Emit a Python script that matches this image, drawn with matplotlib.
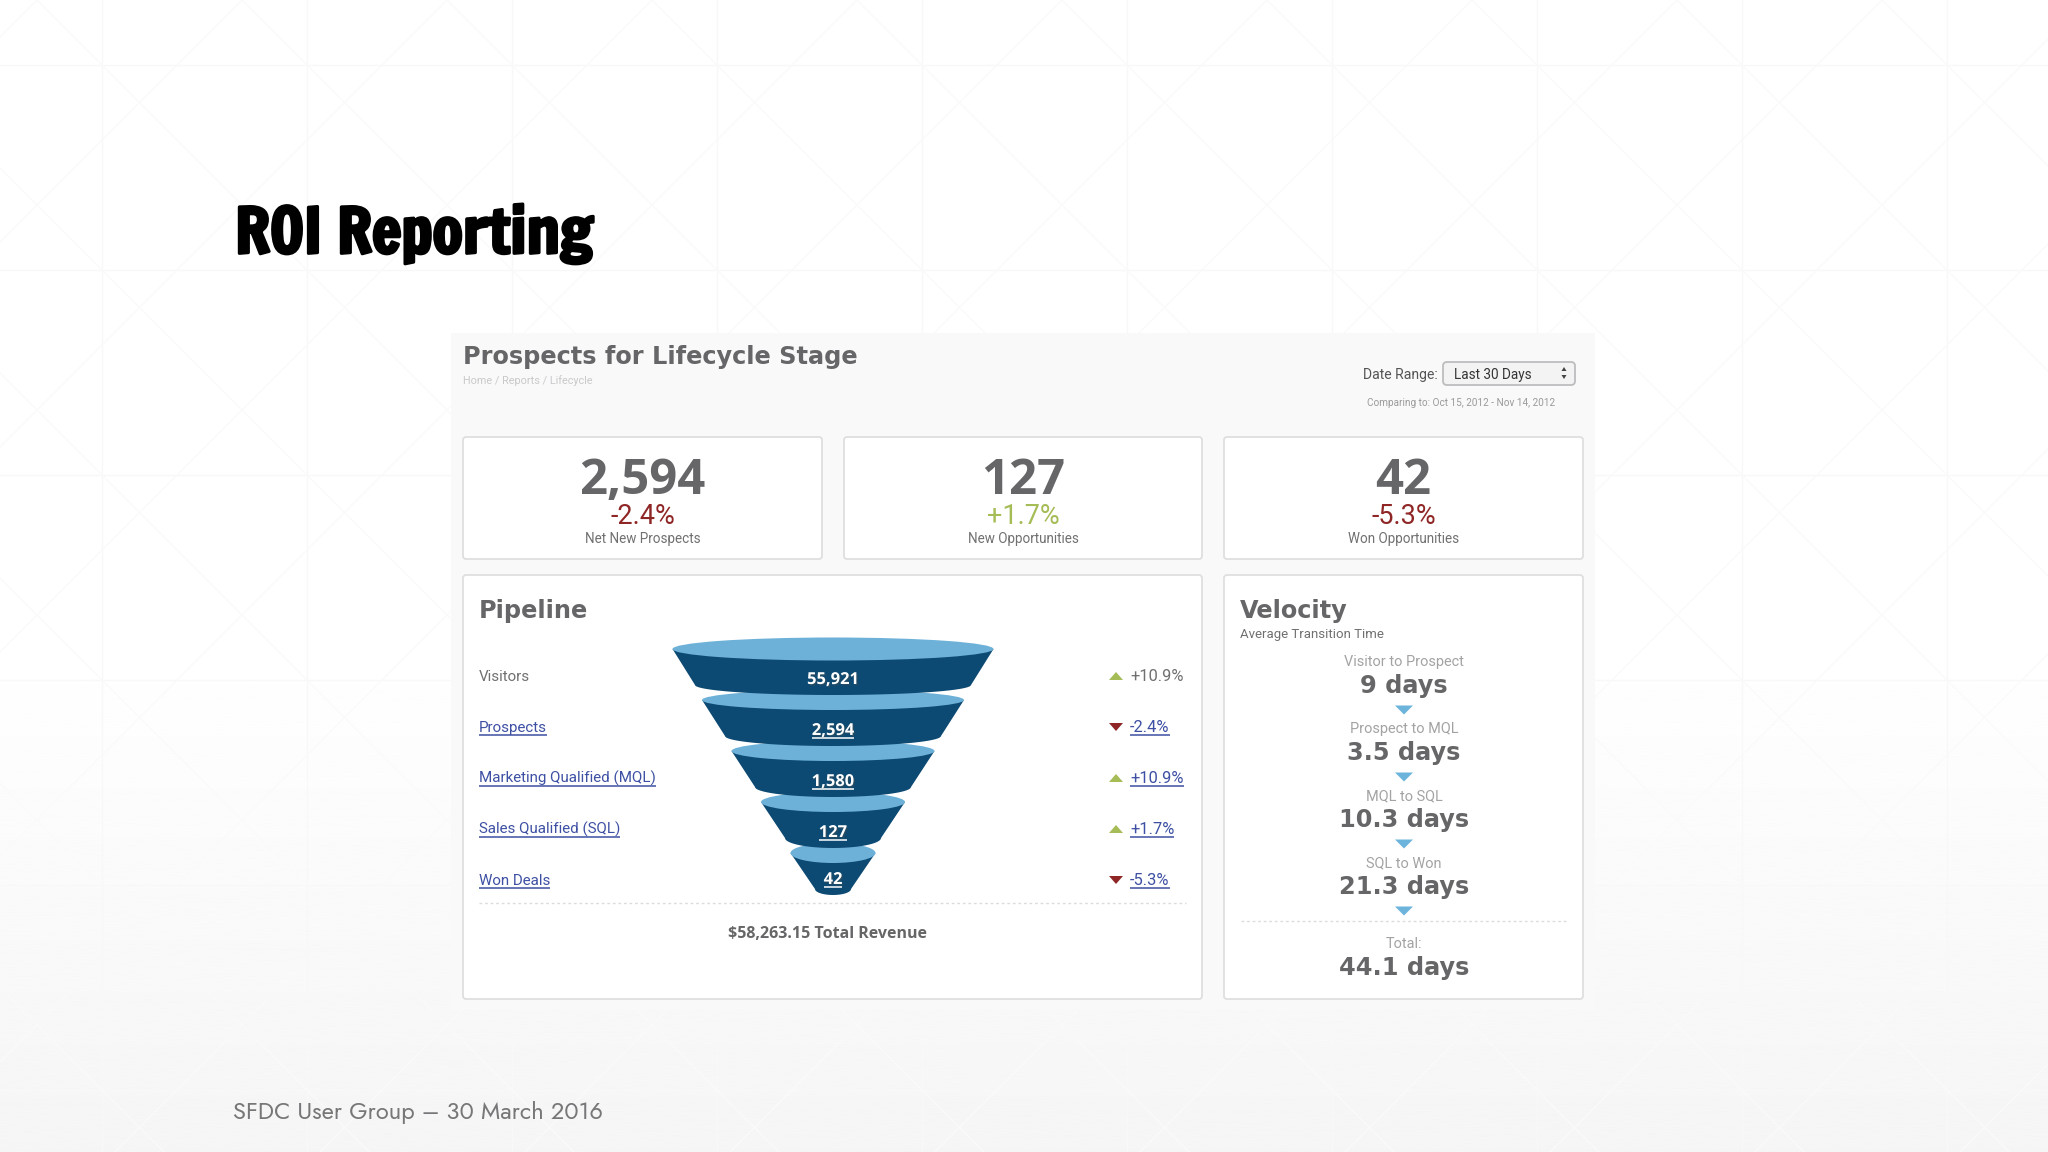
import matplotlib
matplotlib.use('Agg')
import matplotlib.pyplot as plt
import matplotlib.patheffects as pe
import numpy as np
from matplotlib.patches import Ellipse, FancyBboxPatch, Rectangle

# Chart values
stages = ['Visitors', 'Prospects', 'Marketing Qualified (MQL)', 'Sales Qualified (SQL)', 'Won Deals']
stage_values = ['55,921', '2,594', '1,580', '127', '42']
stage_changes = [10.9, -2.4, 10.9, 1.7, -5.3]

kpi_values = ['2,594', '127', '42']
kpi_changes = [-2.4, 1.7, -5.3]
kpi_labels = ['Net New Prospects', 'New Opportunities', 'Won Opportunities']

velocity_steps = ['Visitor to Prospect', 'Prospect to MQL', 'MQL to SQL', 'SQL to Won']
velocity_days = [9, 3.5, 10.3, 21.3]
velocity_total = 44.1
total_revenue = '$58,263.15'

# Colours
GRAY = '#666668'
SOFT = '#707072'
GREEN = '#a5bc57'
RED = '#8f2626'
LINK = '#3d50a3'
DARK = '#0c4a73'
LIGHT = '#6db1d8'
ARROW = '#6cb4dc'
BOLD = ['DejaVu Sans']
BODY = ['Roboto', 'DejaVu Sans']
HEAVY = ['Open Sans', 'DejaVu Sans']

fig = plt.figure(figsize=(20.48, 11.52), dpi=100)
ax = fig.add_axes([0, 0, 1, 1])
ax.set_xlim(0, 2048)
ax.set_ylim(1152, 0)
ax.axis('off')


def label(x, y, s, px, color=SOFT, family=BODY, weight='normal', ha='left', underline=False, zorder=30):
    """Place text by its baseline, size given in image pixels."""
    t = ax.text(x, y, s, fontsize=px * 0.72, color=color, family=family, fontweight=weight,
                ha=ha, va='baseline', zorder=zorder)
    if underline:
        box = t.get_window_extent(fig.canvas.get_renderer())
        ax.plot([box.x0, box.x1], [y + 2.5, y + 2.5], color=color, lw=1.1, zorder=zorder, solid_capstyle='butt')
    return t


def triangle(cx, cy, width, height, color, up=True):
    tip = -height / 2 if up else height / 2
    ax.fill([cx - width / 2, cx + width / 2, cx], [cy - tip, cy - tip, cy + tip], color=color, lw=0, zorder=20)


def card(x0, y0, x1, y1):
    ax.add_patch(FancyBboxPatch((x0, y0), x1 - x0, y1 - y0, boxstyle='round,pad=0,rounding_size=3',
                                fc='white', ec='#dfdfe1', lw=1.3, zorder=5))


# Slide background: soft gradient towards the bottom and a faint lattice
shade = np.clip((np.linspace(0, 1, 400) - 0.55) / 0.45, 0, 1)[:, None] * 10
ax.imshow(255 - shade, cmap='gray', vmin=0, vmax=255, extent=(0, 2048, 1152, 0), aspect='auto', zorder=0)
ax.set_xlim(0, 2048)
ax.set_ylim(1152, 0)

for gx in np.arange(102, 2048, 205):
    ax.plot([gx, gx], [0, 1152], color='#f8f8f9', lw=1, zorder=1)
for gy in np.arange(65, 1152, 205):
    ax.plot([0, 2048], [gy, gy], color='#f8f8f9', lw=1, zorder=1)
for start in np.arange(-1193, 3300, 205):
    ax.plot([start, start + 1152], [0, 1152], color='#fafafb', lw=1, zorder=1)
    ax.plot([start, start - 1152], [0, 1152], color='#fafafb', lw=1, zorder=1)

# Slide title and footer
label(235, 253, 'ROI Reporting', 62, color='black', family=['Francois One', 'Anton', 'Liberation Sans']).set_path_effects(
    [pe.withStroke(linewidth=2.2, foreground='black')])
label(233, 1119, 'SFDC User Group \u2013 30 March 2016', 23.7, color='#77777a', family=['Jost', 'Lato'])

# Dashboard panel
ax.add_patch(Rectangle((451, 333), 1144, 677, fc='#f9f9fa', ec='none', zorder=3))
label(463, 364, 'Prospects for Lifecycle Stage', 24, color=GRAY, family=BOLD, weight='bold')
label(463, 384, 'Home / Reports / Lifecycle', 10.9, color='#c9c9cb')

label(1363, 379, 'Date Range:', 14, color='#555557')
ax.add_patch(FancyBboxPatch((1443, 362), 132, 23, boxstyle='round,pad=0,rounding_size=4',
                            fc='#f3f3f4', ec='#bdbdbf', lw=1.3, zorder=5))
label(1454, 379, 'Last 30 Days', 13.5, color='#333335')
triangle(1564, 369, 5, 4, '#444446', up=True)
triangle(1564, 377, 5, 4, '#444446', up=False)
label(1461, 406, 'Comparing to: Oct 15, 2012 - Nov 14, 2012', 10, color='#9a9a9c', ha='center')

# KPI cards
card_left = [463, 844, 1224]
card_right = [822, 1202, 1583]
for x0, x1, value, change, name in zip(card_left, card_right, kpi_values, kpi_changes, kpi_labels):
    mid = (x0 + x1) / 2
    card(x0, 437, x1, 559)
    label(mid, 494, value, 49, color=GRAY, family=HEAVY, weight='bold', ha='center')
    label(mid, 524, f'{change:+.1f}%', 27, color=GREEN if change > 0 else RED, ha='center')
    label(mid, 543, name, 13.5, ha='center')

# Pipeline card
card(463, 575, 1202, 999)
label(479, 618, 'Pipeline', 24, color=GRAY, family=BOLD, weight='bold')

row_step = 51
funnel_x = 833
for i, (stage, value, change) in enumerate(zip(stages, stage_values, stage_changes)):
    baseline = 681 + row_step * i
    is_link = i > 0
    label(479, baseline, stage, 15.1, color=LINK if is_link else SOFT, underline=is_link)

    # one funnel tier, the upper tiers overlap the ones below
    top_y = 649 + row_step * i
    bottom_y = top_y + 36
    top_half = 160.5 - 29.5 * i
    bottom_half = 138 - 30 * i
    bow = 10 if i < 4 else 6
    theta = np.linspace(np.pi, 0, 40)
    body_x = np.r_[funnel_x - top_half, funnel_x + bottom_half * np.cos(theta), funnel_x + top_half]
    body_y = np.r_[top_y, bottom_y + bow * np.sin(theta), top_y]
    tier_z = 15 - i * 2
    ax.fill(body_x, body_y, color=DARK, lw=0, zorder=tier_z)
    ax.add_patch(Ellipse((funnel_x, top_y), top_half * 2, 23 if i == 0 else 20, fc=LIGHT, ec='none', zorder=tier_z + 1))

    value_y = baseline + 3 if i < 4 else baseline - 1
    label(funnel_x, value_y, value, 16.5, color='white', family=HEAVY, weight='bold', ha='center',
          underline=is_link).set_path_effects([pe.withSimplePatchShadow(offset=(1, -1), alpha=0.4)])

    # change against the previous period
    triangle(1116, baseline - 5, 14, 8, GREEN if change > 0 else RED, up=change > 0)
    label(1130, baseline, f'{change:+.1f}%', 16.5, color=LINK if is_link else SOFT, underline=is_link)

ax.plot([479, 1186], [903, 903], color='#dcdcde', lw=1, ls=(0, (2, 2)), zorder=6)
label(828, 938, f'{total_revenue} Total Revenue', 16, color=GRAY, family=HEAVY, weight='bold', ha='center')

# Velocity card
card(1224, 575, 1583, 999)
label(1240, 618, 'Velocity', 24, color=GRAY, family=BOLD, weight='bold')
label(1240, 638, 'Average Transition Time', 13.3)

vel_x = 1404
for i, (step, days) in enumerate(zip(velocity_steps, velocity_days)):
    label(vel_x, 666 + 67 * i, step, 14.5, color='#a3a3a5', ha='center')
    label(vel_x, 693 + 67 * i, f'{days:g} days', 24, color=GRAY, family=BOLD, weight='bold', ha='center')
    triangle(vel_x, 710 + 67 * i, 18, 9, ARROW, up=False)

ax.plot([1241, 1567], [921, 921], color='#dcdcde', lw=1, ls=(0, (2, 2)), zorder=6)
label(vel_x, 948, 'Total:', 14.5, color='#a3a3a5', ha='center')
label(vel_x, 975, f'{velocity_total:g} days', 24, color=GRAY, family=BOLD, weight='bold', ha='center')

fig.savefig('out.png', dpi=100)
plt.close(fig)
